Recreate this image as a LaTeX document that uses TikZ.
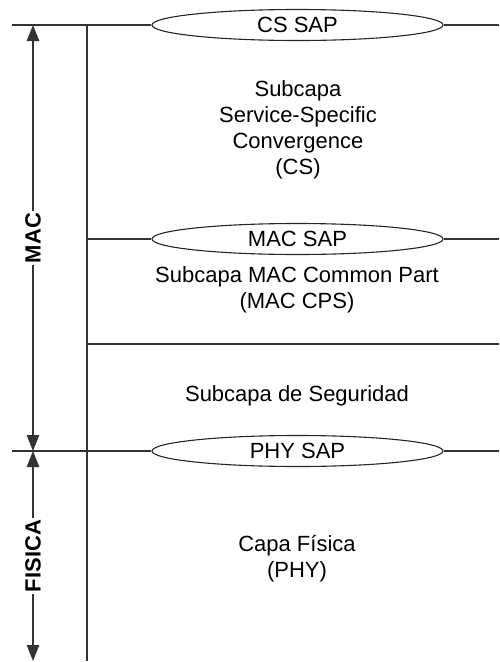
\documentclass[tikz,border=0pt]{standalone}
\usepackage{fontspec}
\setmainfont{Liberation Sans}
\usetikzlibrary{shapes.geometric,arrows.meta}
\begin{document}
\begin{tikzpicture}[x=1pt,y=-1pt,
  ln/.style={draw=black!80,line width=1.1pt},
  sap/.style={ellipse,draw=black!85,line width=1.1pt,fill=white,minimum width=291pt,minimum height=31pt,inner sep=0pt,font=\fontsize{22}{26}\selectfont},
  body/.style={align=center,font=\fontsize{22}{26}\selectfont,inner sep=0pt},
  vlabel/.style={rotate=90,fill=white,inner sep=2pt,font=\bfseries\fontsize{22}{26}\selectfont},
  arr/.style={ln,-{Triangle[length=16pt,width=12.5pt]}}]
\useasboundingbox (0,0) rectangle (499,662);
% coordinates
\coordinate (t0) at (12,25);
\coordinate (t1) at (499,25);
\coordinate (m0) at (87,239);
\coordinate (m1) at (499,239);
\coordinate (s0) at (87,344);
\coordinate (s1) at (499,344);
\coordinate (p0) at (12,451);
\coordinate (p1) at (499,451);
\coordinate (vtop) at (87,25);
\coordinate (vbot) at (87,661);
\coordinate (atop) at (33,25);
\coordinate (amid) at (33,451);
\coordinate (abot) at (33,661);
% ellipses
\node[sap] (cssap) at (297.5,25) {CS SAP};
\node[sap] (macsap) at (297.5,239) {MAC SAP};
\node[sap] (physap) at (297.5,451) {PHY SAP};
% horizontal lines
\draw[ln] (t0) -- (cssap.west);
\draw[ln] (cssap.east) -- (t1);
\draw[ln] (m0) -- (macsap.west);
\draw[ln] (macsap.east) -- (m1);
\draw[ln] (s0) -- (s1);
\draw[ln] (p0) -- (physap.west);
\draw[ln] (physap.east) -- (p1);
\draw[ln] (vtop) -- (vbot);
% texts
\node[body] (cs) at (298,130) {Subcapa\\Service-Specific\\Convergence\\(CS)};
\node[body] (cps) at (297,290) {Subcapa MAC Common Part\\(MAC CPS)};
\node[body] (seg) at (297,396) {Subcapa de Seguridad};
\node[body] (phy) at (297,559) {Capa Física\\(PHY)};
% side labels
\node[vlabel] (mac) at (33,238) {MAC};
\draw[arr] (mac) -- (atop);
\draw[arr] (mac) -- (amid);
\node[vlabel] (fis) at (33,556) {FISICA};
\draw[arr] (fis) -- (amid);
\draw[arr] (fis) -- (abot);
\end{tikzpicture}
\end{document}
